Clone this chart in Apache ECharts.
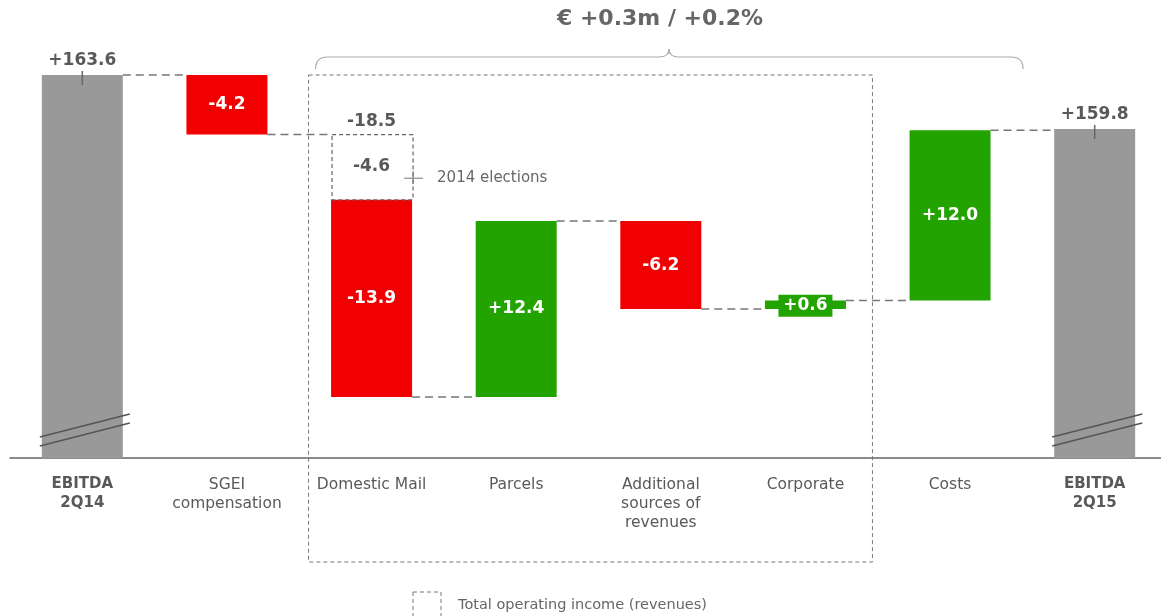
<!DOCTYPE html>
<html>
<head>
<meta charset="utf-8">
<script src="https://cdn.jsdelivr.net/npm/echarts@6/dist/echarts.min.js"></script>
<style>
  html, body { margin: 0; padding: 0; background: #fff; overflow: hidden; }
  #chart { width: 1172px; height: 616px; }
</style>
</head>
<body>
<div id="chart"></div>
<script>
// EBITDA bridge 2Q14 -> 2Q15

const categories = ['EBITDA\n2Q14', 'SGEI\ncompensation', 'Domestic Mail', 'Parcels', 'Additional\nsources of\nrevenues', 'Corporate', 'Costs', 'EBITDA\n2Q15'];
const startValue = 163.6;
const endValue = 159.8;
const deltas = [-4.2, -18.5, 12.4, -6.2, 0.6, 12.0];   // SGEI .. Costs
const electionsPart = -4.6;                             // part of Domestic Mail
const kinds = ['total', 'bar', 'split', 'bar', 'bar', 'small', 'bar', 'total'];

const axisMin = 136.6;
const axisMax = 163.6;

const RED = '#f00000';
const GREEN = '#23a300';
const GREY = '#999999';
const TXT = '#595959';
const FONT = 'DejaVu Sans';

const fmt = v => (v > 0 ? '+' : '') + v.toFixed(1);

// build bars: [index, low, high]
const barData = [];
const levelAfter = [];
const labels = [];
let run = startValue;
barData.push([0, axisMin, startValue]);
levelAfter.push(startValue);
labels.push(fmt(startValue));
deltas.forEach((d, k) => {
    const next = run + d;
    barData.push([k + 1, Math.min(run, next), Math.max(run, next)]);
    levelAfter.push(next);
    labels.push(fmt(d));
    run = next;
});
barData.push([7, axisMin, endValue]);
levelAfter.push(endValue);
labels.push(fmt(endValue));

function renderItem(params, api) {
    const idx = params.dataIndex;
    const i = api.value(0), lo = api.value(1), hi = api.value(2);
    const kind = kinds[idx];
    const top = api.coord([i, hi]);
    const bot = api.coord([i, lo]);
    const w = api.size([1, 0])[0] * 0.56;
    const x = top[0] - w / 2;
    const cx = top[0];
    const children = [];

    // connector to next bar
    if (idx < barData.length - 1) {
        const lvl = levelAfter[idx];
        const y = api.coord([i, lvl])[1];
        const nx = api.coord([i + 1, lvl])[0] - w / 2;
        children.push({
            type: 'line',
            shape: { x1: x + w, y1: y, x2: nx, y2: y },
            style: { stroke: '#777', lineWidth: 1.5, lineDash: [8, 5] }
        });
    }

    if (kind === 'total') {
        children.push({ type: 'rect', shape: { x: x, y: top[1], width: w, height: bot[1] - top[1] }, style: { fill: GREY } });
        // axis-break marks
        [[21, 44], [12, 35]].forEach(([a, b]) => {
            children.push({
                type: 'line',
                shape: { x1: x - 2, y1: bot[1] - a, x2: x + w + 7, y2: bot[1] - b },
                style: { stroke: '#555', lineWidth: 1.5 }
            });
        });
        children.push({ type: 'line', shape: { x1: cx, y1: top[1] - 4, x2: cx, y2: top[1] + 10 }, style: { stroke: '#666', lineWidth: 1.5 } });
        children.push({ type: 'text', style: { text: labels[idx], x: cx, y: top[1] - 14, align: 'center', verticalAlign: 'middle', font: 'bold 17px ' + FONT, fill: TXT } });
    } else if (kind === 'split') {
        const mid = api.coord([i, hi + electionsPart]);
        children.push({ type: 'rect', shape: { x: x, y: mid[1], width: w, height: bot[1] - mid[1] }, style: { fill: RED } });
        children.push({ type: 'rect', shape: { x: x + 1, y: top[1], width: w, height: mid[1] - top[1] }, style: { fill: 'none', stroke: '#666', lineWidth: 1.2, lineDash: [4, 3] } });
        const redVal = deltas[idx - 1] - electionsPart;
        children.push({ type: 'text', style: { text: fmt(redVal), x: cx, y: (mid[1] + bot[1]) / 2, align: 'center', verticalAlign: 'middle', font: 'bold 17px ' + FONT, fill: '#fff' } });
        children.push({ type: 'text', style: { text: fmt(electionsPart), x: cx, y: (top[1] + mid[1]) / 2 - 1, align: 'center', verticalAlign: 'middle', font: 'bold 17px ' + FONT, fill: TXT } });
        children.push({ type: 'text', style: { text: labels[idx], x: cx, y: top[1] - 13, align: 'center', verticalAlign: 'middle', font: 'bold 17px ' + FONT, fill: TXT } });
        const ey = (top[1] + mid[1]) / 2 + 11;
        const ex = x + w + 1;
        children.push({ type: 'line', shape: { x1: ex - 9, y1: ey, x2: ex + 10, y2: ey }, style: { stroke: '#777', lineWidth: 1 } });
        children.push({ type: 'line', shape: { x1: ex, y1: ey - 7, x2: ex, y2: ey + 6 }, style: { stroke: '#777', lineWidth: 1 } });
        children.push({ type: 'text', style: { text: '2014 elections', x: ex + 24, y: ey, align: 'left', verticalAlign: 'middle', font: '15px ' + FONT, fill: '#666' } });
    } else {
        const color = deltas[idx - 1] < 0 ? RED : GREEN;
        children.push({ type: 'rect', shape: { x: x, y: top[1], width: w, height: bot[1] - top[1] }, style: { fill: color } });
        const cy = (top[1] + bot[1]) / 2;
        if (kind === 'small') {
            children.push({ type: 'rect', shape: { x: cx - 27, y: cy - 10, width: 54, height: 22 }, style: { fill: color } });
        }
        children.push({ type: 'text', style: { text: labels[idx], x: cx, y: cy + (kind === 'small' ? 1 : 0), align: 'center', verticalAlign: 'middle', font: 'bold 17px ' + FONT, fill: '#fff' } });
    }
    return { type: 'group', children: children };
}

const chart = echarts.init(document.getElementById('chart'));
chart.setOption({
    animation: false,
    grid: { left: 10, top: 75, width: 1157, bottom: 158 },
    xAxis: {
        type: 'category',
        data: categories,
        axisTick: { show: false },
        axisLine: { lineStyle: { color: '#666', width: 1.5 } },
        axisLabel: {
            interval: 0,
            margin: 17,
            color: TXT,
            fontFamily: FONT,
            fontSize: 15.5,
            lineHeight: 19,
            formatter: (v, i) => (i === 0 || i === categories.length - 1)
                ? v.split('\n').map(s => '{b|' + s + '}').join('\n') : v,
            rich: { b: { fontWeight: 'bold', fontSize: 15, lineHeight: 19, color: TXT, fontFamily: FONT } }
        }
    },
    yAxis: { type: 'value', min: axisMin, max: axisMax, show: false, splitLine: { show: false } },
    series: [{
        type: 'custom',
        renderItem: renderItem,
        data: barData,
        clip: false,
        z: 3
    }]
});

// decorations: revenue box, brace, headline, legend
const pDom = chart.convertToPixel({ gridIndex: 0 }, [2, axisMax]);
const pCorp = chart.convertToPixel({ gridIndex: 0 }, [5, axisMax]);
const pCost = chart.convertToPixel({ gridIndex: 0 }, [6, axisMax]);
const boxL = pDom[0] - 63, boxR = pCorp[0] + 67;
const braceL = boxL + 7, braceR = pCost[0] + 73, braceM = 669;
const braceStyle = { fill: 'none', stroke: '#aaa', lineWidth: 1.2 };

chart.setOption({
    graphic: [
        { type: 'rect', shape: { x: boxL, y: pDom[1], width: boxR - boxL, height: 562 - pDom[1] }, style: { fill: 'none', stroke: '#777', lineWidth: 1, lineDash: [4, 3] }, z: 1 },
        { type: 'bezierCurve', shape: { x1: braceL, y1: 69, cpx1: braceL, cpy1: 57, x2: braceL + 12, y2: 57 }, style: braceStyle },
        { type: 'line', shape: { x1: braceL + 12, y1: 57, x2: braceM - 10, y2: 57 }, style: braceStyle },
        { type: 'bezierCurve', shape: { x1: braceM - 10, y1: 57, cpx1: braceM, cpy1: 57, x2: braceM, y2: 49 }, style: braceStyle },
        { type: 'bezierCurve', shape: { x1: braceM, y1: 49, cpx1: braceM, cpy1: 57, x2: braceM + 10, y2: 57 }, style: braceStyle },
        { type: 'line', shape: { x1: braceM + 10, y1: 57, x2: braceR - 12, y2: 57 }, style: braceStyle },
        { type: 'bezierCurve', shape: { x1: braceR - 12, y1: 57, cpx1: braceR, cpy1: 57, x2: braceR, y2: 69 }, style: braceStyle },
        { type: 'text', style: { text: '€ +0.3m / +0.2%', x: 660, y: 19, align: 'center', verticalAlign: 'middle', font: 'bold 22px ' + FONT, fill: '#666' } },
        { type: 'rect', shape: { x: 413, y: 592, width: 28, height: 30 }, style: { fill: 'none', stroke: '#777', lineWidth: 1, lineDash: [4, 3] } },
        { type: 'text', style: { text: 'Total operating income (revenues)', x: 458, y: 605, align: 'left', verticalAlign: 'middle', font: '14.5px ' + FONT, fill: '#666' } }
    ]
});
</script>
</body>
</html>
